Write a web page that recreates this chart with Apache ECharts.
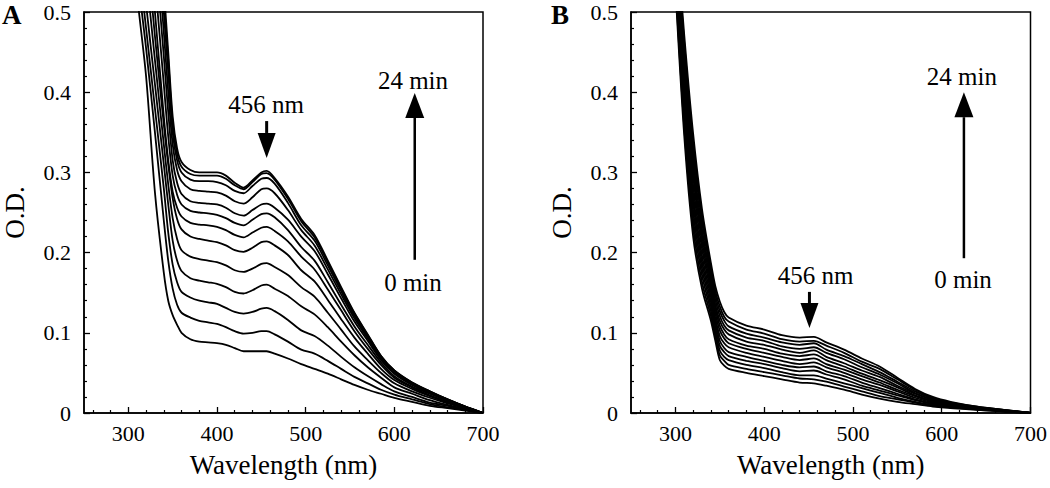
<!DOCTYPE html>
<html><head><meta charset="utf-8">
<script src="https://cdn.jsdelivr.net/npm/echarts@6/dist/echarts.min.js"></script>
<style>html,body{margin:0;padding:0;background:#fff}#c{width:1050px;height:488px}</style>
</head><body><div id="c"></div>
<script>
// ---------- DATA ----------
const times = [0,2,4,6,8,10,12,14,16,18,20,22,24]; // min
const waveA = [300,310,320,330,340,345,350,355,360,370,380,390,400,410,420,430,440,450,456,465,480,495,510,525,540,555,570,585,600,620,640,660,680,700];
const A0  = [0.64,0.52,0.42,0.275,0.175,0.140,0.122,0.110,0.100,0.092,0.089,0.088,0.087,0.085,0.081,0.077,0.077,0.077,0.077,0.074,0.068,0.061,0.055,0.049,0.042,0.035,0.029,0.024,0.019,0.014,0.009,0.006,0.003,0];
const A2  = [0.67,0.55,0.455,0.35,0.24,0.19,0.155,0.135,0.125,0.119,0.115,0.113,0.111,0.107,0.102,0.099,0.100,0.102,0.102,0.098,0.089,0.079,0.074,0.065,0.055,0.045,0.037,0.029,0.023,0.017,0.011,0.007,0.004,0];
const A4  = [0.70,0.58,0.48,0.38,0.28,0.225,0.185,0.163,0.151,0.144,0.140,0.138,0.136,0.131,0.126,0.124,0.126,0.130,0.131,0.127,0.116,0.103,0.096,0.084,0.070,0.057,0.046,0.036,0.027,0.020,0.013,0.009,0.004,0];
const A6  = [0.74,0.62,0.51,0.41,0.31,0.26,0.215,0.19,0.177,0.168,0.165,0.163,0.161,0.157,0.151,0.149,0.153,0.159,0.160,0.155,0.146,0.133,0.123,0.107,0.089,0.072,0.057,0.044,0.032,0.024,0.016,0.010,0.005,0];
const A8  = [0.78,0.66,0.55,0.44,0.335,0.285,0.243,0.217,0.203,0.195,0.192,0.190,0.188,0.184,0.178,0.176,0.180,0.186,0.187,0.182,0.172,0.157,0.145,0.125,0.104,0.083,0.066,0.050,0.037,0.027,0.019,0.012,0.006,0];
const A10 = [0.84,0.71,0.59,0.47,0.36,0.31,0.268,0.242,0.229,0.220,0.217,0.215,0.213,0.209,0.203,0.201,0.206,0.213,0.214,0.209,0.197,0.178,0.164,0.141,0.117,0.094,0.074,0.055,0.041,0.030,0.021,0.013,0.006,0];
const A12 = [0.90,0.76,0.63,0.50,0.37,0.315,0.276,0.256,0.245,0.237,0.235,0.234,0.232,0.228,0.222,0.219,0.225,0.231,0.232,0.227,0.214,0.195,0.179,0.154,0.128,0.102,0.080,0.060,0.044,0.032,0.022,0.014,0.007,0];
const A14 = [0.95,0.81,0.67,0.54,0.41,0.345,0.296,0.272,0.26,0.252,0.250,0.249,0.247,0.243,0.237,0.234,0.241,0.248,0.249,0.244,0.228,0.207,0.190,0.163,0.135,0.108,0.085,0.063,0.046,0.033,0.024,0.015,0.007,0];
const A16 = [1.0,0.86,0.72,0.58,0.445,0.375,0.315,0.287,0.273,0.264,0.262,0.261,0.260,0.256,0.249,0.246,0.253,0.260,0.261,0.256,0.241,0.220,0.202,0.173,0.143,0.114,0.090,0.066,0.049,0.035,0.025,0.016,0.007,0];
const A18 = [1.03,0.90,0.76,0.62,0.475,0.40,0.335,0.303,0.289,0.279,0.277,0.276,0.275,0.271,0.264,0.261,0.269,0.279,0.280,0.274,0.253,0.228,0.209,0.179,0.148,0.118,0.093,0.068,0.050,0.036,0.026,0.016,0.008,0];
const A20 = [1.06,0.93,0.79,0.65,0.50,0.425,0.35,0.315,0.30,0.291,0.289,0.289,0.288,0.284,0.277,0.274,0.283,0.292,0.293,0.286,0.262,0.234,0.215,0.184,0.152,0.121,0.095,0.070,0.052,0.037,0.026,0.017,0.008,0];
const A22 = [1.08,0.95,0.81,0.67,0.515,0.44,0.36,0.323,0.307,0.298,0.296,0.296,0.296,0.292,0.284,0.279,0.288,0.298,0.299,0.291,0.267,0.239,0.219,0.188,0.155,0.124,0.097,0.071,0.053,0.038,0.027,0.017,0.008,0];
const A24 = [1.10,0.97,0.83,0.69,0.53,0.45,0.37,0.33,0.313,0.303,0.300,0.300,0.300,0.296,0.287,0.281,0.290,0.300,0.302,0.293,0.270,0.242,0.222,0.190,0.157,0.125,0.098,0.071,0.053,0.038,0.027,0.017,0.008,0];

const waveB = [300,310,320,330,340,345,350,355,360,380,400,420,440,456,470,490,510,530,550,570,590,610,640,670,700];
const B0  = [0.530,0.345,0.220,0.155,0.115,0.090,0.066,0.059,0.055,0.050,0.046,0.042,0.038,0.037,0.034,0.029,0.023,0.018,0.014,0.011,0.008,0.006,0.004,0.002,0];
const B2  = [0.537,0.356,0.231,0.163,0.121,0.096,0.072,0.065,0.060,0.055,0.051,0.047,0.043,0.042,0.039,0.033,0.027,0.021,0.017,0.013,0.009,0.007,0.004,0.002,0];
const B4  = [0.544,0.366,0.241,0.172,0.127,0.101,0.078,0.070,0.066,0.060,0.056,0.051,0.047,0.047,0.043,0.037,0.031,0.025,0.019,0.014,0.010,0.007,0.005,0.002,0];
const B6  = [0.551,0.377,0.252,0.180,0.133,0.107,0.084,0.076,0.071,0.065,0.061,0.056,0.052,0.053,0.048,0.042,0.034,0.028,0.022,0.016,0.011,0.008,0.005,0.0025,0];
const B8  = [0.558,0.387,0.263,0.188,0.139,0.113,0.090,0.081,0.076,0.070,0.065,0.060,0.057,0.058,0.052,0.046,0.038,0.031,0.024,0.017,0.012,0.009,0.005,0.0025,0];
const B10 = [0.565,0.398,0.273,0.196,0.145,0.118,0.096,0.087,0.082,0.075,0.070,0.065,0.061,0.063,0.057,0.050,0.042,0.035,0.027,0.019,0.013,0.009,0.006,0.003,0];
const B12 = [0.572,0.408,0.284,0.205,0.151,0.124,0.103,0.093,0.087,0.080,0.075,0.070,0.066,0.068,0.061,0.054,0.046,0.038,0.029,0.021,0.014,0.010,0.006,0.003,0];
const B14 = [0.579,0.419,0.295,0.213,0.157,0.130,0.109,0.098,0.092,0.084,0.080,0.074,0.071,0.073,0.066,0.058,0.049,0.041,0.032,0.022,0.015,0.011,0.006,0.003,0];
const B16 = [0.586,0.429,0.305,0.221,0.163,0.135,0.115,0.104,0.098,0.089,0.085,0.079,0.075,0.078,0.070,0.062,0.053,0.045,0.034,0.024,0.016,0.011,0.007,0.003,0];
const B18 = [0.593,0.440,0.316,0.229,0.169,0.141,0.121,0.109,0.103,0.094,0.090,0.083,0.080,0.082,0.075,0.067,0.057,0.048,0.037,0.025,0.017,0.012,0.007,0.0035,0];
const B20 = [0.600,0.450,0.327,0.238,0.175,0.147,0.127,0.115,0.108,0.099,0.094,0.088,0.085,0.087,0.079,0.071,0.061,0.051,0.039,0.027,0.018,0.013,0.007,0.0035,0];
const B22 = [0.607,0.461,0.337,0.246,0.181,0.152,0.133,0.120,0.114,0.104,0.099,0.092,0.089,0.090,0.084,0.075,0.064,0.055,0.042,0.029,0.019,0.013,0.008,0.004,0];
const B24 = [0.614,0.471,0.348,0.254,0.187,0.158,0.139,0.126,0.119,0.109,0.104,0.097,0.094,0.095,0.088,0.079,0.068,0.058,0.044,0.030,0.020,0.014,0.008,0.004,0];

const xMajorTicks = [300,400,500,600,700];
const xMinorTicks = [260,280,320,340,360,380,420,440,460,480,520,540,560,580,620,640,660,680];

// annotations in data coordinates [wavelength, O.D.]
const annA = {peakText:[455.5,0.385], peakTail:[456,0.364], peakTip:[456,0.318],
              upTail:[623,0.191], upTip:[623,0.399], topText:[621,0.415], botText:[621,0.163]};
const annB = {peakText:[458,0.172], peakTail:[451,0.151], peakTip:[451,0.106],
              upTail:[625,0.193], upTip:[625,0.400], topText:[622.7,0.419], botText:[624,0.167]};

// ---------- CHART ----------
const seriesA = [A0,A2,A4,A6,A8,A10,A12,A14,A16,A18,A20,A22,A24];
const seriesB = [B0,B2,B4,B6,B8,B10,B12,B14,B16,B18,B20,B22,B24];
const FONT = 'Liberation Serif, Times New Roman, serif';
const chart = echarts.init(document.getElementById('c'), null, {renderer:'svg'});

const grids = [
  {left:83, top:12, width:400, height:401, show:true, borderColor:'#000', borderWidth:1.5},
  {left:631, top:12, width:400, height:401, show:true, borderColor:'#000', borderWidth:1.5}
];
function xAxesFor(gi){
  return [
    {type:'value', gridIndex:gi, min:250, max:700, position:'bottom',
     name:'Wavelength (nm)', nameLocation:'middle', nameGap:38,
     nameTextStyle:{fontFamily:FONT, fontSize:27, color:'#000'},
     axisLine:{lineStyle:{color:'#000', width:1.5}},
     axisTick:{show:true, inside:true, length:6, customValues:xMajorTicks, lineStyle:{color:'#000', width:1.3}},
     axisLabel:{customValues:xMajorTicks, fontFamily:FONT, fontSize:22, color:'#000', margin:9},
     splitLine:{show:false}},
    {type:'value', gridIndex:gi, min:250, max:700, position:'bottom',
     axisLine:{show:false},
     axisTick:{show:true, inside:true, length:3, customValues:xMinorTicks, lineStyle:{color:'#000', width:1.2}},
     axisLabel:{show:false}, splitLine:{show:false}}
  ];
}
function yAxisFor(gi){
  return {type:'value', gridIndex:gi, min:0, max:0.5, interval:0.1,
    name:'O.D.', nameLocation:'middle', nameGap:56, nameRotate:90,
    nameTextStyle:{fontFamily:FONT, fontSize:27, color:'#000'},
    axisLine:{show:true, lineStyle:{color:'#000', width:1.5}},
    axisTick:{show:true, inside:true, length:6, lineStyle:{color:'#000', width:1.3}},
    minorTick:{show:true, splitNumber:5, length:3, lineStyle:{color:'#000', width:1.2}},
    axisLabel:{fontFamily:FONT, fontSize:22, color:'#000', margin:13,
      formatter:v => v === 0 ? '0' : v.toFixed(1)},
    splitLine:{show:false}, minorSplitLine:{show:false}};
}
function mkSeries(arr, wave, xi, yi){
  return arr.map((vals, k) => ({
    type:'line', name:times[k] + ' min', xAxisIndex:xi, yAxisIndex:yi,
    data: wave.map((w, j) => [w, vals[j]]),
    showSymbol:false, symbol:'none', smooth:0.3, clip:true, silent:true,
    lineStyle:{color:'#000', width:1.8}
  }));
}

chart.setOption({
  animation:false,
  backgroundColor:'#fff',
  grid: grids,
  xAxis: [...xAxesFor(0), ...xAxesFor(1)],
  yAxis: [yAxisFor(0), yAxisFor(1)],
  series: [...mkSeries(seriesA, waveA, 0, 0), ...mkSeries(seriesB, waveB, 2, 1)]
});

function px(xi, yi, pt){ return chart.convertToPixel({xAxisIndex:xi, yAxisIndex:yi}, pt); }
function arrow(xi, yi, tail, tip, headLen, headW, lw){
  const p0 = px(xi, yi, tail), p1 = px(xi, yi, tip);
  const dir = Math.sign(p1[1] - p0[1]);
  const hb = p1[1] - dir * headLen;
  return [
    {type:'line', silent:true, shape:{x1:p0[0], y1:p0[1], x2:p1[0], y2:hb}, style:{stroke:'#000', lineWidth:lw}},
    {type:'polygon', silent:true, shape:{points:[[p1[0], p1[1]], [p1[0]-headW/2, hb], [p1[0]+headW/2, hb]]}, style:{fill:'#000'}}
  ];
}
function label(xi, yi, pt, txt){
  const p = px(xi, yi, pt);
  return {type:'text', silent:true, x:p[0], y:p[1],
    style:{text:txt, fontFamily:FONT, fontSize:25, fill:'#000', align:'center', verticalAlign:'middle'}};
}
function panelAnn(xi, yi, a){
  return [
    label(xi, yi, a.peakText, '456 nm'),
    ...arrow(xi, yi, a.peakTail, a.peakTip, 25, 18, 3),
    ...arrow(xi, yi, a.upTail, a.upTip, 25, 19, 2.5),
    label(xi, yi, a.topText, '24 min'),
    label(xi, yi, a.botText, '0 min')
  ];
}
chart.setOption({
  graphic: [
    {type:'text', left:2, top:1, silent:true, style:{text:'A', fontFamily:FONT, fontSize:27, fontWeight:'bold', fill:'#000'}},
    {type:'text', left:551, top:1, silent:true, style:{text:'B', fontFamily:FONT, fontSize:27, fontWeight:'bold', fill:'#000'}},
    ...panelAnn(0, 0, annA),
    ...panelAnn(2, 1, annB)
  ]
});
</script>
</body></html>
